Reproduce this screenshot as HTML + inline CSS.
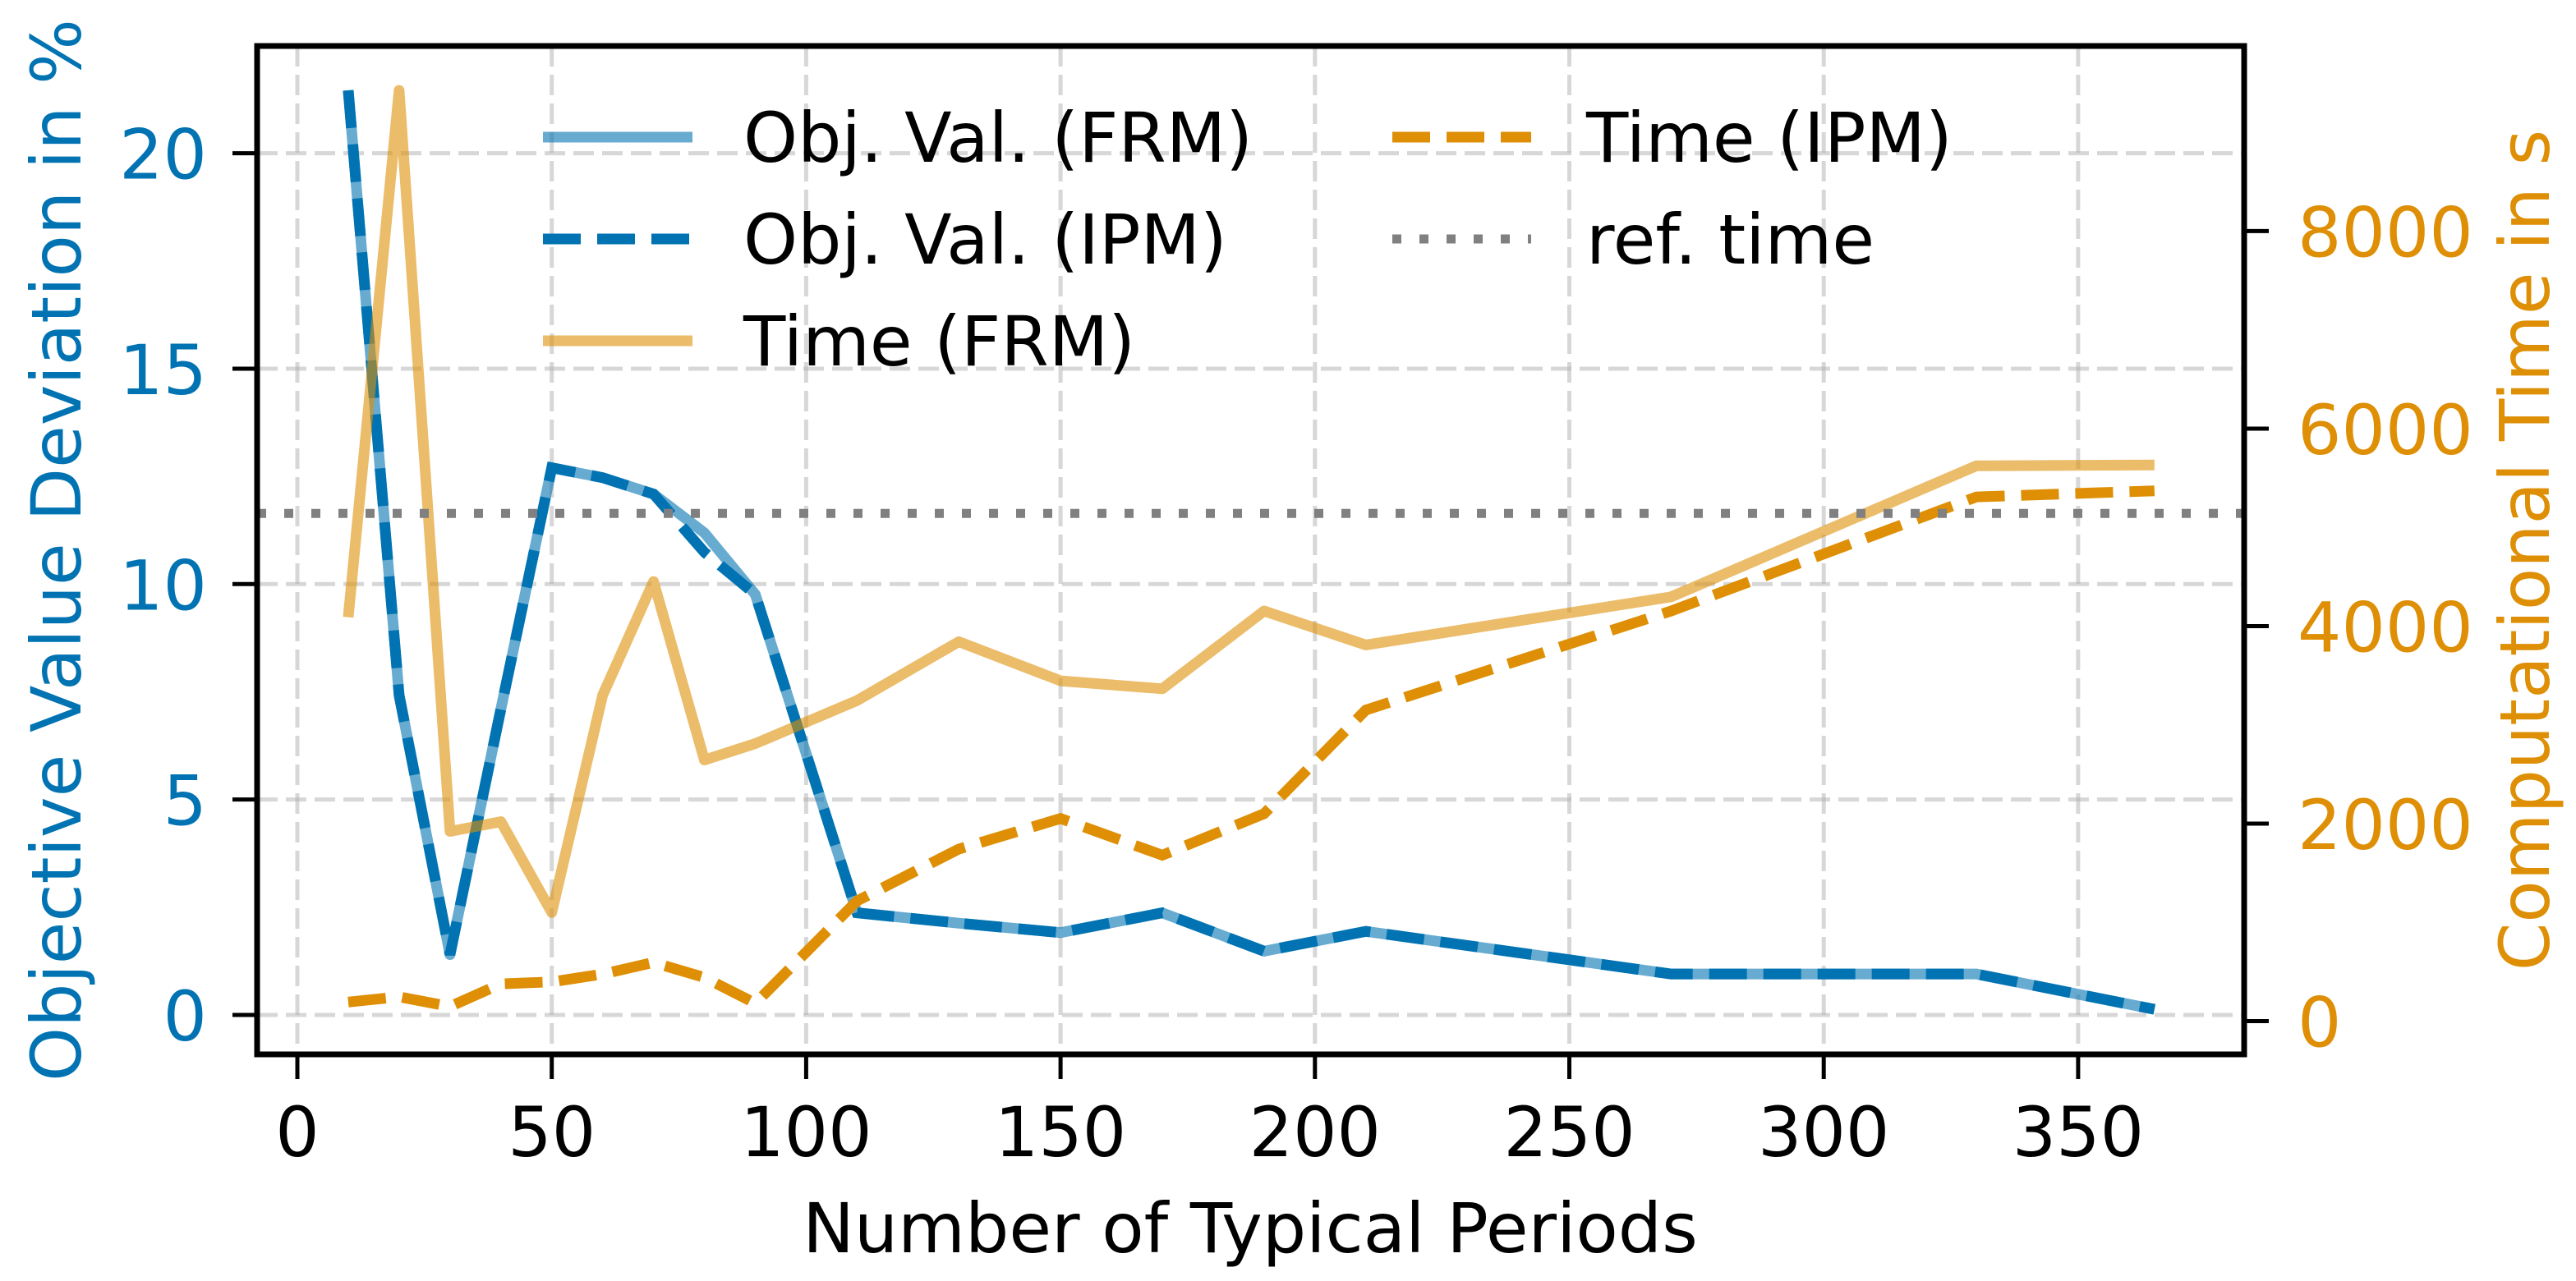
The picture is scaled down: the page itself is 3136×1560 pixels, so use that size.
<!DOCTYPE html>
<html><head><meta charset="utf-8"><style>
html,body{margin:0;padding:0;background:#fff}
svg{display:block;font-family:"DejaVu Sans","Liberation Sans",sans-serif}
</style></head><body>
<svg id="chart" width="3136" height="1560" viewBox="0 0 3136 1560" xmlns="http://www.w3.org/2000/svg">
<rect x="0" y="0" width="3136" height="1560" fill="#fff"/>
<g id="grid"></g>
<g id="series"></g>
<g id="axes"></g>
<g id="legend"></g>
</svg>
<script>
const periods = [10,20,30,40,50,60,70,80,90,110,130,150,170,190,210,270,330,365];
const objFRM = [21.46,7.42,1.40,7.1,12.70,12.47,12.09,11.19,9.76,2.37,2.13,1.91,2.37,1.48,1.94,0.95,0.95,0.13];
const objIPM = [21.46,7.42,1.40,7.1,12.70,12.47,12.09,10.74,9.76,2.37,2.13,1.91,2.37,1.48,1.94,0.95,0.95,0.13];
const timeFRM = [4090,9425,1921,2020,1100,3300,4451,2644,2810,3246,3842,3446,3365,4153,3809,4296,5623,5632];
const timeIPM = [193,246,147,377,397,476,594,442,180,1217,1742,2052,1680,2100,3150,4153,5308,5370];
const refTime = 5141;
const xTicks = [0,50,100,150,200,250,300,350];
const yLeftTicks = [0,5,10,15,20];
const yRightTicks = [0,2000,4000,6000,8000];

const L=313,R=2732,T=56,B=1284;
const FS=84;
const xs = v => 362 + v*6.194;
const yl = v => 1236 - v*52.47;
const yr = v => 1243.5 - v*0.12026;
const NS="http://www.w3.org/2000/svg";
function mk(tag, attrs, parent){const e=document.createElementNS(NS,tag);for(const k in attrs)e.setAttribute(k,attrs[k]);parent.appendChild(e);return e;}
const grid=document.getElementById('grid'),series=document.getElementById('series'),axes=document.getElementById('axes'),legend=document.getElementById('legend');

xTicks.forEach(t=>{
  const g=mk('line',{x1:xs(t),x2:xs(t),y1:T,y2:B,stroke:'#b0b0b0','stroke-opacity':0.5,'stroke-width':5,'stroke-dasharray':'25 10'},grid);
  
  
});
yLeftTicks.forEach(t=>{
  const g=mk('line',{x1:L,x2:R,y1:yl(t),y2:yl(t),stroke:'#b0b0b0','stroke-opacity':0.5,'stroke-width':5,'stroke-dasharray':'25 10'},grid);
  
  
});

function pts(ys,fy){return periods.map((p,i)=>xs(p)+','+fy(ys[i])).join(' ');}
const s1=mk('polyline',{points:pts(objFRM,yl),fill:'none',stroke:'#0173b2','stroke-opacity':0.6,'stroke-width':13,'stroke-linejoin':'round'},series);


const s2=mk('polyline',{points:pts(objIPM,yl),fill:'none',stroke:'#0173b2','stroke-width':13,'stroke-dasharray':'46 20'},series);


const s3=mk('polyline',{points:pts(timeFRM,yr),fill:'none',stroke:'#de8f05','stroke-opacity':0.6,'stroke-width':13,'stroke-linejoin':'round'},series);


const s4=mk('polyline',{points:pts(timeIPM,yr),fill:'none',stroke:'#de8f05','stroke-width':13,'stroke-dasharray':'46 20'},series);


const s5=mk('line',{x1:L,x2:R,y1:yr(refTime),y2:yr(refTime),stroke:'#808080','stroke-width':11,'stroke-dasharray':'11 22'},series);



const frame=mk('rect',{x:L,y:T,width:R-L,height:B-T,fill:'none',stroke:'#000','stroke-width':7},axes);



xTicks.forEach(t=>{
  mk('line',{x1:xs(t),x2:xs(t),y1:B,y2:B+30,stroke:'#000','stroke-width':5},axes);
  const tx=mk('text',{x:xs(t),y:1408,'text-anchor':'middle','font-size':FS,fill:'#000'},axes);
  tx.textContent=t;
  
  
});
yLeftTicks.forEach(t=>{
  mk('line',{x1:L-30,x2:L,y1:yl(t),y2:yl(t),stroke:'#000','stroke-width':5},axes);
  const tx=mk('text',{x:252,y:yl(t)+31,'text-anchor':'end','font-size':FS,fill:'#0173b2'},axes);
  tx.textContent=t;
  
  
});
yRightTicks.forEach(t=>{
  mk('line',{x1:R,x2:R+30,y1:yr(t),y2:yr(t),stroke:'#000','stroke-width':5},axes);
  const tx=mk('text',{x:2797,y:yr(t)+31,'text-anchor':'start','font-size':FS,fill:'#de8f05'},axes);
  tx.textContent=t;
  
  
});
</script>
<script>
(function(){
const NS="http://www.w3.org/2000/svg";
const FS=84;
const axes=document.getElementById('axes'),legend=document.getElementById('legend');
function mk(tag, attrs, parent){const e=document.createElementNS(NS,tag);for(const k in attrs)e.setAttribute(k,attrs[k]);parent.appendChild(e);return e;}
const xl=mk('text',{x:1522,y:1525,'text-anchor':'middle','font-size':FS,fill:'#000'},axes);
xl.textContent='Number of Typical Periods';


const ylt=mk('text',{x:0,y:0,'text-anchor':'middle','font-size':FS,fill:'#0173b2',transform:'translate(98,670) rotate(-90)'},axes);
ylt.textContent='Objective Value Deviation in %';


const yrt=mk('text',{x:0,y:0,'text-anchor':'middle','font-size':FS,fill:'#de8f05',transform:'translate(3103,670) rotate(-90)'},axes);
yrt.textContent='Computational Time in s';



const entries=[
 {x1:661,x2:843,tx:905,y:167,color:'#0173b2',op:0.6,dash:'',label:'Obj. Val. (FRM)',w:13},
 {x1:661,x2:843,tx:905,y:291,color:'#0173b2',op:1,dash:'46 20',label:'Obj. Val. (IPM)',w:13},
 {x1:661,x2:843,tx:905,y:415,color:'#de8f05',op:0.6,dash:'',label:'Time (FRM)',w:13},
 {x1:1695,x2:1864,tx:1931,y:167,color:'#de8f05',op:1,dash:'46 20',label:'Time (IPM)',w:13},
 {x1:1695,x2:1864,tx:1931,y:291,color:'#808080',op:1,dash:'11 22',label:'ref. time',w:11}
];
entries.forEach(e=>{
  const g=mk('g',{},legend);
  
  
  const a={x1:e.x1,x2:e.x2,y1:e.y,y2:e.y,stroke:e.color,'stroke-opacity':e.op,'stroke-width':e.w};
  if(e.dash)a['stroke-dasharray']=e.dash;
  mk('line',a,g);
  const t=mk('text',{x:e.tx,y:e.y+30,'font-size':FS,fill:'#000'},g);
  t.textContent=e.label;
});
})();
</script>
</body></html>
